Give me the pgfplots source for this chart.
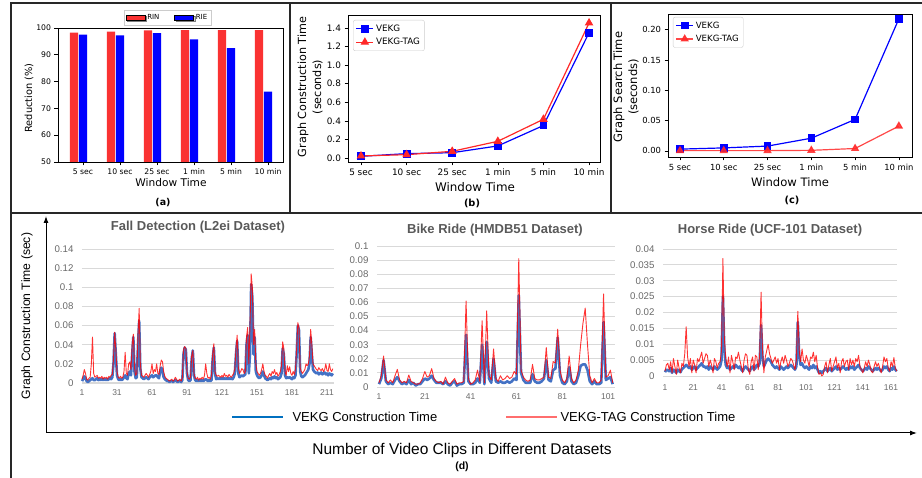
\documentclass[border=0pt]{standalone}
\usepackage{fontspec}
\setmainfont{DejaVu Sans}
\newfontfamily\lib{Liberation Sans}
\usepackage{pgfplots}
\usepackage{pgfplotstable}
\pgfplotsset{compat=1.18}
\usetikzlibrary{shadows,arrows.meta}

\definecolor{barred}{RGB}{250,50,50}
\definecolor{tagred}{RGB}{255,40,40}
\definecolor{xlblue}{RGB}{68,114,196}
\definecolor{xlgrid}{RGB}{217,217,217}
\definecolor{xltext}{RGB}{89,89,89}
\definecolor{xltick}{RGB}{105,105,105}
\definecolor{legblue}{RGB}{0,112,192}
\definecolor{legred}{RGB}{255,110,110}
\definecolor{frame}{RGB}{40,40,40}

% fall detection (L2ei): clip, VEKG, VEKG-TAG
\pgfplotstableread[row sep=\\]{
n b r\\
1 0.002 0.004\\ 2 0.004 0.008\\ 3 0.007 0.014\\ 4 0.005 0.010\\ 5 0.002 0.004\\ 6 0.001 0.003\\ 7 0.002 0.005\\ 8 0.003 0.006\\ 9 0.004 0.020\\ 10 0.005 0.048\\
11 0.003 0.010\\ 12 0.003 0.006\\ 13 0.004 0.007\\ 14 0.005 0.008\\ 15 0.003 0.005\\ 16 0.004 0.006\\ 17 0.003 0.005\\ 18 0.004 0.007\\ 19 0.003 0.004\\ 20 0.004 0.006\\
21 0.003 0.005\\ 22 0.004 0.006\\ 23 0.003 0.004\\ 24 0.004 0.007\\ 25 0.005 0.006\\ 26 0.004 0.008\\ 27 0.006 0.009\\ 28 0.020 0.025\\ 29 0.052 0.053\\ 30 0.030 0.035\\
31 0.008 0.012\\ 32 0.004 0.006\\ 33 0.003 0.005\\ 34 0.004 0.007\\ 35 0.003 0.005\\ 36 0.004 0.006\\ 37 0.006 0.012\\ 38 0.008 0.032\\ 39 0.005 0.010\\ 40 0.004 0.008\\
41 0.010 0.020\\ 42 0.012 0.022\\ 43 0.008 0.014\\ 44 0.030 0.040\\ 45 0.048 0.051\\ 46 0.012 0.016\\ 47 0.005 0.008\\ 48 0.006 0.010\\ 49 0.040 0.050\\ 50 0.065 0.078\\
51 0.015 0.020\\ 52 0.006 0.008\\ 53 0.005 0.007\\ 54 0.004 0.006\\ 55 0.005 0.008\\ 56 0.006 0.010\\ 57 0.005 0.008\\ 58 0.004 0.006\\ 59 0.006 0.009\\ 60 0.007 0.012\\
61 0.008 0.020\\ 62 0.006 0.010\\ 63 0.007 0.014\\ 64 0.008 0.012\\ 65 0.008 0.020\\ 66 0.006 0.010\\ 67 0.005 0.009\\ 68 0.012 0.018\\ 69 0.016 0.024\\ 70 0.012 0.022\\
71 0.006 0.012\\ 72 0.004 0.007\\ 73 0.003 0.005\\ 74 0.002 0.004\\ 75 0.002 0.003\\ 76 0.001 0.002\\ 77 0.002 0.003\\ 78 0.002 0.004\\ 79 0.001 0.002\\ 80 0.002 0.003\\
81 0.003 0.006\\ 82 0.002 0.004\\ 83 0.001 0.002\\ 84 0.002 0.003\\ 85 0.002 0.004\\ 86 0.001 0.002\\ 87 0.003 0.005\\ 88 0.030 0.035\\ 89 0.037 0.038\\ 90 0.035 0.036\\
91 0.010 0.012\\ 92 0.003 0.005\\ 93 0.002 0.004\\ 94 0.003 0.006\\ 95 0.025 0.028\\ 96 0.034 0.034\\ 97 0.008 0.010\\ 98 0.003 0.005\\ 99 0.002 0.004\\ 100 0.003 0.006\\
101 0.002 0.003\\ 102 0.003 0.005\\ 103 0.002 0.004\\ 104 0.003 0.006\\ 105 0.002 0.004\\ 106 0.003 0.008\\ 107 0.004 0.020\\ 108 0.003 0.010\\ 109 0.002 0.005\\ 110 0.003 0.006\\
111 0.002 0.004\\ 112 0.003 0.008\\ 113 0.025 0.030\\ 114 0.037 0.041\\ 115 0.010 0.012\\ 116 0.004 0.008\\ 117 0.005 0.007\\ 118 0.004 0.008\\ 119 0.005 0.007\\ 120 0.004 0.006\\
121 0.005 0.008\\ 122 0.004 0.006\\ 123 0.005 0.010\\ 124 0.004 0.007\\ 125 0.005 0.008\\ 126 0.004 0.006\\ 127 0.005 0.009\\ 128 0.004 0.007\\ 129 0.005 0.006\\ 130 0.004 0.008\\
131 0.006 0.010\\ 132 0.010 0.015\\ 133 0.030 0.036\\ 134 0.044 0.050\\ 135 0.010 0.016\\ 136 0.006 0.010\\ 137 0.007 0.012\\ 138 0.008 0.015\\ 139 0.007 0.014\\ 140 0.008 0.010\\
141 0.009 0.012\\ 142 0.040 0.048\\ 143 0.050 0.058\\ 144 0.010 0.020\\ 145 0.030 0.060\\ 146 0.103 0.114\\ 147 0.090 0.100\\ 148 0.030 0.040\\ 149 0.048 0.056\\ 150 0.012 0.020\\
151 0.008 0.012\\ 152 0.006 0.010\\ 153 0.005 0.008\\ 154 0.006 0.010\\ 155 0.008 0.014\\ 156 0.012 0.020\\ 157 0.008 0.012\\ 158 0.005 0.008\\ 159 0.004 0.007\\ 160 0.003 0.005\\
161 0.004 0.008\\ 162 0.005 0.010\\ 163 0.004 0.007\\ 164 0.006 0.012\\ 165 0.005 0.010\\ 166 0.007 0.014\\ 167 0.005 0.009\\ 168 0.006 0.011\\ 169 0.004 0.007\\ 170 0.005 0.009\\
171 0.006 0.012\\ 172 0.010 0.018\\ 173 0.036 0.043\\ 174 0.030 0.036\\ 175 0.008 0.012\\ 176 0.005 0.008\\ 177 0.006 0.018\\ 178 0.005 0.012\\ 179 0.006 0.017\\ 180 0.005 0.010\\
181 0.004 0.008\\ 182 0.006 0.012\\ 183 0.005 0.009\\ 184 0.008 0.014\\ 185 0.030 0.036\\ 186 0.060 0.063\\ 187 0.055 0.058\\ 188 0.012 0.016\\ 189 0.007 0.012\\ 190 0.006 0.010\\
191 0.007 0.012\\ 192 0.008 0.014\\ 193 0.010 0.020\\ 194 0.012 0.018\\ 195 0.014 0.020\\ 196 0.020 0.028\\ 197 0.048 0.056\\ 198 0.030 0.040\\ 199 0.014 0.020\\ 200 0.012 0.018\\
201 0.011 0.016\\ 202 0.010 0.014\\ 203 0.011 0.013\\ 204 0.009 0.016\\ 205 0.010 0.014\\ 206 0.011 0.013\\ 207 0.009 0.015\\ 208 0.010 0.012\\ 209 0.011 0.014\\ 210 0.009 0.020\\
211 0.010 0.013\\ 212 0.008 0.012\\ 213 0.010 0.020\\ 214 0.009 0.014\\ 215 0.008 0.012\\ 216 0.010 0.015\\
}\fall

% bike ride (HMDB51)
\pgfplotstableread[row sep=\\]{
n b r\\
1 0.002 0.003\\ 2 0.006 0.008\\ 3 0.019 0.022\\ 4 0.004 0.005\\ 5 0.002 0.003\\ 6 0.003 0.005\\ 7 0.002 0.003\\ 8 0.005 0.008\\ 9 0.007 0.0125\\ 10 0.004 0.005\\
11 0.002 0.003\\ 12 0.003 0.004\\ 13 0.002 0.003\\ 14 0.005 0.0085\\ 15 0.002 0.004\\ 16 0.003 0.003\\ 17 0.001 0.002\\ 18 0.002 0.002\\ 19 0.002 0.003\\ 20 0.004 0.006\\
21 0.006 0.011\\ 22 0.005 0.007\\ 23 0.006 0.008\\ 24 0.008 0.013\\ 25 0.005 0.006\\ 26 0.003 0.004\\ 27 0.003 0.003\\ 28 0.003 0.004\\ 29 0.002 0.002\\ 30 0.004 0.007\\
31 0.002 0.003\\ 32 0.001 0.002\\ 33 0.003 0.004\\ 34 0.004 0.006\\ 35 0.001 0.002\\ 36 0.002 0.003\\ 37 0.002 0.003\\ 38 0.003 0.004\\ 39 0.037 0.061\\ 40 0.004 0.006\\
41 0.002 0.002\\ 42 0.002 0.003\\ 43 0.003 0.005\\ 44 0.006 0.012\\ 45 0.003 0.004\\ 46 0.030 0.047\\ 47 0.002 0.003\\ 48 0.032 0.054\\ 49 0.006 0.008\\ 50 0.003 0.005\\
51 0.020 0.027\\ 52 0.004 0.006\\ 53 0.003 0.004\\ 54 0.004 0.008\\ 55 0.003 0.005\\ 56 0.003 0.006\\ 57 0.004 0.008\\ 58 0.003 0.006\\ 59 0.004 0.007\\ 60 0.006 0.011\\
61 0.005 0.009\\ 62 0.065 0.091\\ 63 0.010 0.012\\ 64 0.005 0.007\\ 65 0.003 0.005\\ 66 0.003 0.004\\ 67 0.003 0.005\\ 68 0.009 0.016\\ 69 0.004 0.006\\ 70 0.003 0.005\\
71 0.003 0.005\\ 72 0.004 0.006\\ 73 0.006 0.007\\ 74 0.019 0.028\\ 75 0.005 0.007\\ 76 0.004 0.006\\ 77 0.012 0.018\\ 78 0.013 0.017\\ 79 0.035 0.041\\ 80 0.008 0.012\\
81 0.003 0.005\\ 82 0.002 0.003\\ 83 0.004 0.006\\ 84 0.014 0.022\\ 85 0.004 0.006\\ 86 0.002 0.003\\ 87 0.003 0.005\\ 88 0.008 0.012\\ 89 0.015 0.030\\ 90 0.016 0.045\\
91 0.016 0.056\\ 92 0.012 0.030\\ 93 0.004 0.008\\ 94 0.002 0.003\\ 95 0.004 0.006\\ 96 0.002 0.003\\ 97 0.002 0.003\\ 98 0.003 0.005\\ 99 0.046 0.066\\ 100 0.005 0.007\\
101 0.006 0.008\\ 102 0.007 0.012\\ 103 0.002 0.003\\
}\bike

% horse ride (UCF-101)
\pgfplotstableread[row sep=\\]{
n b r\\
1 0.0012 0.0015\\ 2 0.0020 0.0035\\ 3 0.0018 0.0040\\ 4 0.0015 0.0020\\ 5 0.0025 0.0045\\ 6 0.0010 0.0010\\ 7 0.0020 0.0055\\ 8 0.0015 0.0030\\ 9 0.0010 0.0005\\ 10 0.0020 0.0050\\
11 0.0015 0.0025\\ 12 0.0012 0.0010\\ 13 0.0022 0.0040\\ 14 0.0025 0.0030\\ 15 0.0030 0.0070\\ 16 0.0035 0.0155\\ 17 0.0030 0.0060\\ 18 0.0025 0.0030\\ 19 0.0030 0.0055\\ 20 0.0020 0.0010\\
21 0.0025 0.0050\\ 22 0.0030 0.0035\\ 23 0.0020 0.0010\\ 24 0.0025 0.0055\\ 25 0.0030 0.0045\\ 26 0.0035 0.0060\\ 27 0.0040 0.0075\\ 28 0.0030 0.0040\\ 29 0.0030 0.0055\\ 30 0.0025 0.0070\\
31 0.0030 0.0065\\ 32 0.0020 0.0030\\ 33 0.0030 0.0050\\ 34 0.0025 0.0035\\ 35 0.0020 0.0010\\ 36 0.0030 0.0055\\ 37 0.0025 0.0045\\ 38 0.0020 0.0025\\ 39 0.0025 0.0040\\ 40 0.0030 0.0045\\
41 0.0050 0.0080\\ 42 0.0250 0.0370\\ 43 0.0080 0.0120\\ 44 0.0035 0.0055\\ 45 0.0025 0.0030\\ 46 0.0030 0.0060\\ 47 0.0020 0.0010\\ 48 0.0025 0.0065\\ 49 0.0030 0.0045\\ 50 0.0025 0.0020\\
51 0.0035 0.0060\\ 52 0.0030 0.0055\\ 53 0.0025 0.0075\\ 54 0.0030 0.0050\\ 55 0.0020 0.0030\\ 56 0.0015 0.0010\\ 57 0.0025 0.0050\\ 58 0.0030 0.0070\\ 59 0.0025 0.0065\\ 60 0.0020 0.0020\\
61 0.0015 0.0005\\ 62 0.0025 0.0045\\ 63 0.0030 0.0060\\ 64 0.0020 0.0015\\ 65 0.0025 0.0065\\ 66 0.0035 0.0060\\ 67 0.0030 0.0020\\ 68 0.0040 0.0065\\ 69 0.0160 0.0264\\ 70 0.0060 0.0080\\
71 0.0030 0.0010\\ 72 0.0040 0.0060\\ 73 0.0050 0.0080\\ 74 0.0055 0.0100\\ 75 0.0050 0.0070\\ 76 0.0045 0.0055\\ 77 0.0035 0.0040\\ 78 0.0030 0.0050\\ 79 0.0025 0.0060\\ 80 0.0030 0.0040\\
81 0.0025 0.0055\\ 82 0.0020 0.0020\\ 83 0.0030 0.0045\\ 84 0.0025 0.0060\\ 85 0.0020 0.0040\\ 86 0.0025 0.0065\\ 87 0.0030 0.0050\\ 88 0.0025 0.0030\\ 89 0.0030 0.0040\\ 90 0.0035 0.0055\\
91 0.0030 0.0050\\ 92 0.0025 0.0035\\ 93 0.0020 0.0020\\ 94 0.0030 0.0050\\ 95 0.0170 0.0204\\ 96 0.0060 0.0080\\ 97 0.0035 0.0045\\ 98 0.0040 0.0085\\ 99 0.0030 0.0050\\ 100 0.0025 0.0040\\
101 0.0030 0.0065\\ 102 0.0025 0.0050\\ 103 0.0020 0.0030\\ 104 0.0030 0.0060\\ 105 0.0025 0.0055\\ 106 0.0035 0.0075\\ 107 0.0025 0.0045\\ 108 0.0030 0.0065\\ 109 0.0020 0.0025\\ 110 0.0010 0.0005\\
111 0.0015 0.0010\\ 112 0.0010 0.0000\\ 113 0.0015 0.0005\\ 114 0.0020 0.0030\\ 115 0.0025 0.0045\\ 116 0.0015 0.0010\\ 117 0.0020 0.0035\\ 118 0.0025 0.0055\\ 119 0.0015 0.0015\\ 120 0.0020 0.0030\\
121 0.0025 0.0045\\ 122 0.0030 0.0060\\ 123 0.0020 0.0025\\ 124 0.0025 0.0040\\ 125 0.0020 0.0010\\ 126 0.0025 0.0045\\ 127 0.0030 0.0055\\ 128 0.0025 0.0030\\ 129 0.0020 0.0045\\ 130 0.0025 0.0050\\
131 0.0020 0.0020\\ 132 0.0030 0.0055\\ 133 0.0025 0.0035\\ 134 0.0030 0.0050\\ 135 0.0020 0.0030\\ 136 0.0025 0.0055\\ 137 0.0030 0.0045\\ 138 0.0035 0.0065\\ 139 0.0025 0.0030\\ 140 0.0020 0.0020\\
141 0.0015 0.0010\\ 142 0.0020 0.0025\\ 143 0.0025 0.0045\\ 144 0.0020 0.0030\\ 145 0.0030 0.0050\\ 146 0.0025 0.0035\\ 147 0.0020 0.0015\\ 148 0.0015 0.0010\\ 149 0.0020 0.0030\\ 150 0.0025 0.0045\\
151 0.0020 0.0030\\ 152 0.0025 0.0040\\ 153 0.0020 0.0025\\ 154 0.0015 0.0010\\ 155 0.0020 0.0030\\ 156 0.0030 0.0060\\ 157 0.0025 0.0045\\ 158 0.0030 0.0055\\ 159 0.0020 0.0025\\ 160 0.0015 0.0015\\
161 0.0025 0.0045\\ 162 0.0020 0.0030\\ 163 0.0030 0.0058\\ 164 0.0020 0.0025\\ 165 0.0015 0.0015\\
}\horse

\pgfplotsset{
  mpl/.style={
    scale only axis, anchor=south west,
    tick align=outside, major tick length=3.5pt,
    axis line style={line width=0.7pt},
    tick style={black, line width=0.6pt},
    xtick pos=left, ytick pos=left,
    /pgf/number format/assume math mode=true,
    ticklabel style={font=\fontsize{7.7}{8}\selectfont},
    xtick={0,1,2,3,4,5},
    xticklabels={5 sec,10 sec,25 sec,1 min,5 min,10 min},
    legend cell align=left,
    legend style={font=\fontsize{8.8}{9}\selectfont, draw={rgb,255:red,204;green,204;blue,204},
      rounded corners=2pt, inner sep=2.5pt, row sep=1.5pt},
  },
  xl/.style={
    scale only axis, anchor=south west, clip=false,
    axis line style={draw=none}, major tick length=0pt, tick style={draw=none},
    ymajorgrids, grid style={xlgrid, line width=0.8pt},
    scaled y ticks=false,
    /pgf/number format/assume math mode=true,
    yticklabel style={font=\lib\fontsize{9.7}{10}\selectfont, text=xltick, xshift=-5pt},
    xticklabel style={font=\lib\fontsize{8.5}{9}\selectfont, text=xltick, yshift=-3pt},
  },
  vekg/.style={xlblue, line width=2.6pt, line join=round},
  tag/.style={red, opacity=0.8, line width=0.9pt, line join=round},
}

\begin{document}
\begin{tikzpicture}[x=1pt,y=1pt]
\useasboundingbox (0,0) rectangle (922,478);

% panel frames
\draw[frame, line width=1.2pt] (11,0) -- (11,475) -- (922,475);
\draw[frame, line width=1.2pt] (11,265) -- (922,265);
\draw[frame, line width=1.2pt] (290,265) -- (290,475);
\draw[frame, line width=1.2pt] (611,265) -- (611,475);

% (a) reduction bars
\begin{axis}[mpl, at={(58pt,316pt)}, width=225pt, height=134pt,
  xmin=-0.676, xmax=5.405, ymin=50, ymax=100, ytick={50,60,70,80,90,100},
  legend columns=2,
  legend image code/.code={\fill[#1] (0pt,-2.5pt) rectangle (19pt,2.5pt);},
  legend style={at={(0.487,1)}, anchor=south, yshift=3pt, font=\fontsize{7}{7.5}\selectfont,
    rounded corners=0pt, inner sep=2pt,
    drop shadow={shadow xshift=1.2pt, shadow yshift=-1.2pt, fill=black!35},
    /tikz/every even column/.append style={column sep=13pt}}]
\addplot[ybar, bar width=8.3pt, bar shift=-9.1pt, fill=barred, draw=none, forget plot]
  coordinates {(0,98.25)(1,98.6)(2,99.1)(3,99.2)(4,99.2)(5,99.2)};
\addplot[ybar, bar width=8.3pt, bar shift=0pt, fill=blue, draw=none, forget plot]
  coordinates {(0,97.5)(1,97.25)(2,98.1)(3,95.75)(4,92.5)(5,76.25)};
\addlegendimage{fill=barred}
\addlegendentry{RIN}
\addlegendimage{fill=blue}
\addlegendentry{RIE}
\end{axis}
\node[rotate=90, font=\fontsize{9.8}{11}\selectfont] at (29,380) {Reduction (\%)};
\node[font=\fontsize{10.6}{12}\selectfont] at (171,295) {Window Time};
\node[font=\bfseries\fontsize{9.5}{11}\selectfont] at (163,275) {(a)};

% (b) construction time
\begin{axis}[mpl, at={(348pt,316pt)}, width=252pt, height=147pt,
  xmin=-0.285, xmax=5.24, ymin=-0.043, ymax=1.54,
  ticklabel style={font=\fontsize{8.9}{9}\selectfont},
  ytick={0,0.2,0.4,0.6,0.8,1.0,1.2,1.4},
  yticklabel style={/pgf/number format/.cd, fixed, fixed zerofill, precision=1},
  legend style={at={(0.02,0.966)}, anchor=north west}]
\addplot[blue, line width=1.2pt, mark=square*, mark size=3.3pt]
  coordinates {(0,0.018)(1,0.047)(2,0.057)(3,0.13)(4,0.35)(5,1.35)};
\addlegendentry{VEKG}
\addplot[tagred, line width=1.2pt, mark=triangle*, mark size=3.8pt]
  coordinates {(0,0.022)(1,0.036)(2,0.072)(3,0.18)(4,0.417)(5,1.454)};
\addlegendentry{VEKG-TAG}
\end{axis}
\node[rotate=90, align=center, font=\fontsize{11.2}{15}\selectfont] at (310,391) {Graph Construction Time\\(seconds)};
\node[font=\fontsize{11.9}{13}\selectfont] at (475,291) {Window Time};
\node[font=\bfseries\fontsize{9.8}{11}\selectfont] at (472,275) {(b)};

% (c) search time
\begin{axis}[mpl, at={(668pt,321pt)}, width=244pt, height=143pt,
  xmin=-0.274, xmax=5.30, ymin=-0.01, ymax=0.226,
  ticklabel style={font=\fontsize{8.4}{9}\selectfont},
  ytick={0,0.05,0.1,0.15,0.2},
  yticklabel style={/pgf/number format/.cd, fixed, fixed zerofill, precision=2},
  legend style={at={(0.02,0.979)}, anchor=north west, font=\fontsize{8.6}{9}\selectfont}]
\addplot[blue, line width=1.2pt, mark=square*, mark size=3.2pt]
  coordinates {(0,0.003)(1,0.005)(2,0.008)(3,0.021)(4,0.052)(5,0.218)};
\addlegendentry{VEKG}
\addplot[tagred, opacity=0.85, line width=1.2pt, mark=triangle*, mark size=3.7pt]
  coordinates {(0,0.0005)(1,0.0005)(2,0.0005)(3,0.001)(4,0.004)(5,0.041)};
\addlegendentry{VEKG-TAG}
\end{axis}
\node[rotate=90, align=center, font=\fontsize{11.5}{15}\selectfont] at (626,391) {Graph Search Time\\(seconds)};
\node[font=\fontsize{11.6}{13}\selectfont] at (790,296) {Window Time};
\node[font=\bfseries\fontsize{9.8}{11}\selectfont] at (792,278) {(c)};

% (d) per-clip construction time
\begin{axis}[xl, at={(82pt,95pt)}, width=252pt, height=134pt,
  xmin=1, xmax=217, ymin=0, ymax=0.14,
  ytick={0,0.02,0.04,0.06,0.08,0.1,0.12,0.14},
  yticklabels={0,0.02,0.04,0.06,0.08,0.1,0.12,0.14},
  xtick={1,31,61,91,121,151,181,211}]
\draw[xlgrid, line width=1.6pt] (rel axis cs:0,0) -- (rel axis cs:1,0);
\addplot[vekg] table[x=n, y=b] {\fall};
\addplot[tag] table[x=n, y=r] {\fall};
\end{axis}

\begin{axis}[xl, at={(377pt,91pt)}, width=238pt, height=141pt,
  xmin=0.13, xmax=104, ymin=0, ymax=0.1,
  ytick={0,0.01,0.02,0.03,0.04,0.05,0.06,0.07,0.08,0.09,0.1},
  yticklabels={0,0.01,0.02,0.03,0.04,0.05,0.06,0.07,0.08,0.09,0.1},
  xtick={1,21,41,61,81,101}]
\addplot[vekg] table[x=n, y=b] {\bike};
\addplot[tag] table[x=n, y=r] {\bike};
\end{axis}

\begin{axis}[xl, at={(663pt,102pt)}, width=234pt, height=127pt,
  xmin=-0.4, xmax=165.2, ymin=0, ymax=0.04,
  ytick={0,0.005,0.01,0.015,0.02,0.025,0.03,0.035,0.04},
  yticklabels={0,0.005,0.01,0.015,0.02,0.025,0.03,0.035,0.04},
  xtick={1,21,41,61,81,101,121,141,161},
  xticklabel style={yshift=-2pt}]
\addplot[vekg] table[x=n, y=b] {\horse};
\addplot[tag] table[x=n, y=r] {\horse};
\end{axis}

\node[font=\lib\bfseries\fontsize{13}{15}\selectfont, text=xltext] at (198,251) {Fall Detection (L2ei Dataset)};
\node[font=\lib\bfseries\fontsize{13}{15}\selectfont, text=xltext] at (495,248) {Bike Ride (HMDB51 Dataset)};
\node[font=\lib\bfseries\fontsize{13}{15}\selectfont, text=xltext] at (770,248) {Horse Ride (UCF-101 Dataset)};

% big axes, legend and labels of (d)
\draw[line width=1pt, -{Latex[length=7pt,width=5pt]}] (46,45) -- (46,262);
\draw[line width=1pt, -{Latex[length=7pt,width=5pt]}] (46,45) -- (917,45);
\node[rotate=90, font=\lib\fontsize{12.2}{14}\selectfont] at (27,162) {Graph Construction Time (sec)};
\draw[legblue, line width=2.6pt] (232,61) -- (283,61);
\node[anchor=west, font=\lib\fontsize{13}{15}\selectfont] at (289,61) {VEKG Construction Time};
\draw[legred, line width=1.3pt] (506,61) -- (557,61);
\node[anchor=west, font=\lib\fontsize{13}{15}\selectfont] at (557,61) {VEKG-TAG Construction Time};
\node[font=\lib\fontsize{15.5}{17}\selectfont] at (462,28) {Number of Video Clips in Different Datasets};
\node[font=\lib\bfseries\fontsize{10.5}{12}\selectfont] at (462,11) {(d)};
\end{tikzpicture}
\end{document}
